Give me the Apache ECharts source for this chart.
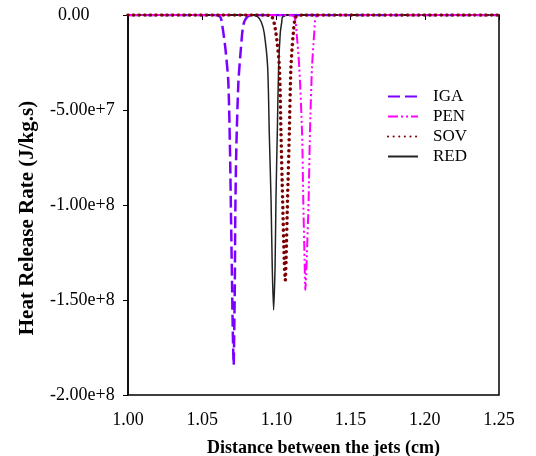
<!DOCTYPE html>
<html>
<head>
<meta charset="utf-8">
<script src="https://cdn.jsdelivr.net/npm/echarts@6/dist/echarts.min.js"></script>
<style>
  html, body { margin: 0; padding: 0; background: #fff; }
  #chart { width: 536px; height: 456px; }
</style>
</head>
<body>
<div id="chart"></div>
<script>
/* x: distance (cm), y: heat release rate (J/kg.s) */
var igaData = [[1.00, 0], [1.0582, 0], [1.0622, -1.0e6], [1.0635, -5.3e6], [1.0656, -1.74e7], [1.0676, -3.53e7],
	[1.0687, -7.0e7], [1.0694, -1.053e8], [1.0701, -1.405e8], [1.0706, -1.658e8], [1.0712, -1.842e8],
	[1.0716, -1.658e8], [1.0720, -1.405e8], [1.0723, -1.053e8], [1.0730, -7.0e7], [1.0744, -3.53e7],
	[1.0761, -1.74e7], [1.0777, -5.3e6], [1.0804, -1.0e6], [1.0851, 0], [1.25, 0]];
var penData = [[1.00, 0], [1.1073, 0], [1.1121, -1.0e6], [1.1136, -9.5e6], [1.1154, -2.74e7], [1.1173, -6.21e7],
	[1.1181, -9.74e7], [1.1190, -1.29e8], [1.1195, -1.447e8], [1.1204, -1.29e8], [1.1217, -9.74e7],
	[1.1226, -6.21e7], [1.1240, -2.74e7], [1.1255, -9.5e6], [1.1267, -1.0e6], [1.1316, 0], [1.25, 0]];
var sovData = [[1.00, 0], [1.0918, 0], [1.0970, -0.9e6], [1.0997, -9.5e6], [1.1020, -2.74e7], [1.1031, -6.21e7],
	[1.1042, -9.74e7], [1.1053, -1.29e8], [1.1060, -1.395e8], [1.1065, -1.29e8], [1.1075, -9.74e7],
	[1.1087, -6.21e7], [1.1098, -2.74e7], [1.1114, -9.5e6], [1.1132, -0.9e6], [1.1188, 0], [1.25, 0]];
var redData = [[1.00, 0], [1.0829, 0], [1.0873, -0.9e6], [1.0898, -3.7e6], [1.0918, -9.5e6], [1.0941, -2.74e7],
	[1.0952, -6.21e7], [1.0964, -9.74e7], [1.0972, -1.326e8], [1.0981, -1.553e8], [1.0991, -1.326e8],
	[1.0997, -9.74e7], [1.1006, -6.21e7], [1.1015, -2.74e7], [1.1026, -9.5e6], [1.1036, -3.7e6],
	[1.1042, -1.0e6], [1.1087, 0], [1.25, 0]];
var seriesNames = ['IGA', 'PEN', 'SOV', 'RED'];

var chart = echarts.init(document.getElementById('chart'));
var font = 'Liberation Serif';
var option = {
	animation: false,
	grid: {
		left: 128, right: 37, top: 15, bottom: 61,
		outerBoundsMode: 'none',
		show: true, borderColor: '#000', borderWidth: 1.5
	},
	legend: {
		data: seriesNames,
		orient: 'vertical',
		left: 382, top: 83,
		itemWidth: 30, itemHeight: 10, itemGap: 3,
		itemStyle: { opacity: 0 },
		textStyle: { fontFamily: font, fontSize: 17, color: '#000', padding: [0, 0, 0, 10] }
	},
	xAxis: {
		type: 'value',
		min: 1.00, max: 1.25, interval: 0.05,
		name: 'Distance between the jets (cm)',
		nameLocation: 'middle', nameGap: 44,
		nameTextStyle: { fontFamily: font, fontSize: 18, fontWeight: 'bold', color: '#000', padding: [0, 0, 0, 20] },
		axisLine: { lineStyle: { color: '#000', width: 1.5 } },
		axisTick: { show: true, length: 5, lineStyle: { color: '#000' } },
		axisLabel: {
			fontFamily: font, fontSize: 18, color: '#000', margin: 16,
			formatter: function (v) { return v.toFixed(2); }
		},
		splitLine: { show: false }
	},
	yAxis: {
		type: 'value',
		min: -2e8, max: 0, interval: 5e7,
		name: 'Heat Release Rate (J/kg.s)',
		nameLocation: 'middle', nameGap: 90,
		nameTextStyle: { fontFamily: font, fontSize: 21, fontWeight: 'bold', color: '#000', padding: [0, 26, 0, 0] },
		axisLine: { lineStyle: { color: '#000', width: 1.5 } },
		axisTick: { show: true, length: 5, lineStyle: { color: '#000' } },
		axisLabel: {
			fontFamily: font, fontSize: 18, color: '#000', margin: 78, align: 'left',
			formatter: function (v) { return v === 0 ? '{z|0.00}' : v.toExponential(2); },
			rich: { z: { fontFamily: font, fontSize: 18, color: '#000', padding: [0, 0, 0, 8] } }
		},
		splitLine: { show: false }
	},
	series: [
		{
			name: 'RED', type: 'line', data: redData, symbol: 'none', z: 2, smooth: 0.25,
			itemStyle: { color: '#222' },
			lineStyle: { color: '#222', width: 1.5 }
		},
		{
			name: 'IGA', type: 'line', data: igaData, symbol: 'none', z: 3, smooth: 0.25,
			itemStyle: { color: '#7a00ff' },
			lineStyle: { color: '#7a00ff', width: 2.5, type: [12, 5] }
		},
		{
			name: 'PEN', type: 'line', data: penData, symbol: 'none', z: 4, smooth: 0.25,
			itemStyle: { color: '#ff00ff' },
			lineStyle: { color: '#ff00ff', width: 2, type: [10, 3, 2, 3, 2, 3] }
		},
		{
			name: 'SOV', type: 'line', data: sovData, symbol: 'none', z: 5, smooth: 0.25,
			itemStyle: { color: '#7b0000' },
			lineStyle: { color: '#7b0000', width: 3.5, type: [0.1, 5.5], cap: 'round' }
		}
	]
};
chart.setOption(option);
</script>
</body>
</html>
